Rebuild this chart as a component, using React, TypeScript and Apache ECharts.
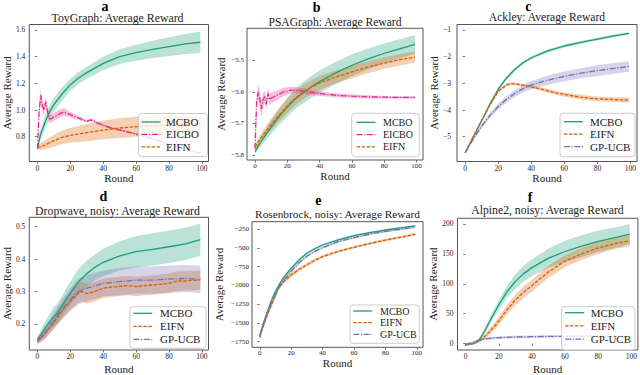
import React, { useEffect, useRef } from 'react';
import * as echarts from 'echarts';

const SERIF = 'Liberation Serif';
const INK = '#222222';

// ---------------- data: panel a (ToyGraph) ----------------
const aMcboRounds = [0, 2, 5, 8, 10, 15, 20, 25, 30, 40, 50, 60, 70, 80, 90, 99];
const aMcboMean = [0.72, 0.82, 0.92, 1.0, 1.04, 1.12, 1.19, 1.24, 1.28, 1.35, 1.4, 1.43, 1.455, 1.475, 1.495, 1.508];
const aMcboSpread = [0.02, 0.04, 0.05, 0.05, 0.05, 0.05, 0.045, 0.045, 0.045, 0.05, 0.055, 0.06, 0.065, 0.07, 0.075, 0.08];

const aEicboRounds = [0, 1, 2, 3, 4, 5, 6, 7, 8, 10, 12, 14, 16, 18, 20, 22, 25, 28, 30, 32, 34, 36, 40, 45, 50, 55, 60, 70, 80, 90, 99];
const aEicboMean = [0.71, 0.98, 1.11, 1.03, 1.0, 1.06, 1.0, 0.94, 0.93, 0.95, 0.96, 0.975, 0.985, 0.975, 0.965, 0.955, 0.94, 0.925, 0.915, 0.925, 0.92, 0.905, 0.885, 0.865, 0.85, 0.835, 0.82, 0.785, 0.745, 0.71, 0.675];
const aEicboSpread = [0.01, 0.04, 0.05, 0.05, 0.04, 0.04, 0.04, 0.035, 0.03, 0.03, 0.03, 0.03, 0.03, 0.025, 0.02, 0.02, 0.015, 0.012, 0.01, 0.01, 0.01, 0.01, 0.01, 0.008, 0.008, 0.008, 0.008, 0.008, 0.008, 0.008, 0.008];

const aEifnRounds = [0, 2, 5, 10, 15, 20, 25, 30, 40, 50, 60, 70, 80, 90, 99];
const aEifnMean = [0.72, 0.725, 0.74, 0.77, 0.795, 0.81, 0.82, 0.83, 0.85, 0.865, 0.875, 0.885, 0.89, 0.893, 0.895];
const aEifnSpread = [0.02, 0.025, 0.035, 0.045, 0.05, 0.055, 0.06, 0.065, 0.07, 0.075, 0.075, 0.07, 0.065, 0.06, 0.06];

// ---------------- data: panel b (PSAGraph) ----------------
const bRounds = [0, 2, 5, 10, 15, 20, 25, 30, 35, 40, 50, 60, 70, 80, 90, 99];
const bMcboMean = [-5.79, -5.772, -5.748, -5.712, -5.678, -5.648, -5.622, -5.602, -5.584, -5.568, -5.54, -5.516, -5.496, -5.478, -5.463, -5.45];
const bMcboSpread = [0.008, 0.012, 0.016, 0.022, 0.026, 0.03, 0.032, 0.034, 0.035, 0.035, 0.035, 0.035, 0.033, 0.031, 0.03, 0.03];
const bEifnMean = [-5.775, -5.758, -5.737, -5.703, -5.673, -5.645, -5.62, -5.6, -5.585, -5.572, -5.553, -5.537, -5.522, -5.509, -5.498, -5.49];
const bEifnSpread = [0.008, 0.012, 0.015, 0.018, 0.02, 0.022, 0.022, 0.022, 0.022, 0.022, 0.02, 0.02, 0.019, 0.018, 0.018, 0.018];

const bEicboRounds = [0, 1, 2, 3, 4, 5, 6, 7, 8, 9, 10, 12, 14, 16, 18, 20, 22, 25, 30, 35, 40, 50, 60, 70, 80, 90, 99];
const bEicboMean = [-5.78, -5.63, -5.6, -5.625, -5.655, -5.625, -5.615, -5.64, -5.605, -5.625, -5.62, -5.615, -5.61, -5.605, -5.6, -5.598, -5.595, -5.595, -5.598, -5.602, -5.606, -5.611, -5.614, -5.616, -5.617, -5.618, -5.618];
const bEicboSpread = [0.01, 0.02, 0.025, 0.025, 0.025, 0.022, 0.02, 0.02, 0.018, 0.018, 0.017, 0.016, 0.015, 0.014, 0.013, 0.012, 0.011, 0.01, 0.009, 0.008, 0.007, 0.006, 0.005, 0.005, 0.004, 0.004, 0.004];

// ---------------- data: panel c (Ackley) ----------------
const cRounds = [0, 5, 10, 15, 20, 25, 30, 35, 40, 50, 60, 70, 80, 90, 99];
const cMcboMean = [-5.6, -5.0, -4.4, -3.78, -3.22, -2.8, -2.48, -2.23, -2.04, -1.78, -1.6, -1.46, -1.34, -1.22, -1.13];
const cMcboSpread = [0.02, 0.04, 0.05, 0.06, 0.06, 0.06, 0.06, 0.06, 0.06, 0.06, 0.06, 0.05, 0.05, 0.05, 0.05];
const cGpMean = [-5.6, -5.08, -4.6, -4.2, -3.87, -3.6, -3.38, -3.2, -3.06, -2.88, -2.74, -2.62, -2.52, -2.44, -2.37];
const cGpSpread = [0.03, 0.06, 0.08, 0.1, 0.11, 0.12, 0.13, 0.14, 0.15, 0.17, 0.18, 0.19, 0.2, 0.2, 0.2];

const cEifnRounds = [0, 5, 10, 15, 20, 25, 28, 30, 35, 40, 45, 50, 55, 60, 70, 80, 90, 99];
const cEifnMean = [-5.6, -4.98, -4.38, -3.8, -3.3, -3.06, -3.01, -3.02, -3.07, -3.13, -3.2, -3.28, -3.36, -3.42, -3.52, -3.58, -3.61, -3.63];
const cEifnSpread = [0.02, 0.03, 0.04, 0.05, 0.05, 0.05, 0.05, 0.05, 0.05, 0.06, 0.06, 0.07, 0.07, 0.08, 0.09, 0.09, 0.09, 0.1];

// ---------------- data: panel d (Dropwave, noisy) ----------------
const dMcboRounds = [0, 2, 5, 8, 10, 12, 15, 18, 20, 25, 30, 35, 40, 50, 60, 70, 80, 90, 99];
const dMcboMean = [0.15, 0.165, 0.19, 0.21, 0.222, 0.232, 0.255, 0.28, 0.295, 0.33, 0.355, 0.375, 0.39, 0.41, 0.423, 0.43, 0.438, 0.447, 0.46];
const dMcboSpread = [0.01, 0.015, 0.02, 0.025, 0.03, 0.03, 0.03, 0.035, 0.035, 0.04, 0.04, 0.04, 0.042, 0.045, 0.048, 0.05, 0.05, 0.05, 0.05];

const dEifnRounds = [0, 2, 5, 10, 15, 20, 25, 27, 30, 35, 40, 45, 50, 55, 60, 65, 70, 75, 80, 85, 90, 99];
const dEifnMean = [0.15, 0.155, 0.17, 0.205, 0.24, 0.27, 0.295, 0.3, 0.293, 0.3, 0.31, 0.313, 0.316, 0.318, 0.315, 0.318, 0.32, 0.322, 0.325, 0.332, 0.333, 0.335];
const dEifnSpread = [0.01, 0.012, 0.015, 0.02, 0.025, 0.028, 0.03, 0.03, 0.03, 0.03, 0.03, 0.03, 0.03, 0.03, 0.03, 0.03, 0.03, 0.03, 0.03, 0.03, 0.03, 0.03];

const dGpRounds = [0, 5, 10, 15, 20, 25, 30, 40, 50, 60, 70, 80, 90, 99];
const dGpMean = [0.145, 0.175, 0.21, 0.245, 0.275, 0.3, 0.31, 0.325, 0.33, 0.335, 0.335, 0.338, 0.34, 0.337];
const dGpSpread = [0.01, 0.02, 0.025, 0.03, 0.035, 0.04, 0.04, 0.04, 0.042, 0.042, 0.042, 0.042, 0.042, 0.042];

// ---------------- data: panel e (Rosenbrock, noisy) ----------------
const eRounds = [0, 2, 4, 6, 8, 10, 12, 15, 20, 25, 30, 35, 40, 50, 60, 70, 80, 90, 99];
const eMcboMean = [-1670, -1520, -1400, -1280, -1170, -1080, -1000, -900, -770, -660, -570, -510, -460, -390, -335, -295, -260, -230, -205];
const eMcboSpread = [20, 20, 20, 20, 20, 20, 20, 20, 18, 15, 15, 12, 12, 12, 12, 12, 12, 12, 12];
const eEifnMean = [-1690, -1560, -1440, -1330, -1230, -1130, -1020, -950, -860, -785, -725, -665, -615, -545, -490, -440, -395, -355, -315];
const eEifnSpread = [25, 25, 25, 30, 35, 40, 40, 35, 30, 25, 25, 22, 20, 18, 18, 18, 18, 18, 18];
const eGpMean = [-1690, -1540, -1420, -1310, -1210, -1120, -1040, -940, -810, -700, -610, -545, -495, -415, -360, -315, -278, -248, -222];
const eGpSpread = [20, 20, 20, 20, 20, 20, 20, 20, 20, 18, 18, 15, 15, 15, 15, 15, 15, 15, 15];

// ---------------- data: panel f (Alpine2, noisy) ----------------
const fRounds = [0, 3, 5, 8, 10, 12, 15, 18, 20, 25, 30, 35, 40, 50, 60, 70, 80, 90, 99];
const fMcboMean = [-2, -1, 0, 6, 14, 24, 40, 55, 65, 87, 104, 117, 127, 143, 154, 163, 171, 177, 183];
const fMcboSpread = [1, 1, 1.5, 3, 4, 5, 6, 7, 8, 10, 12, 13, 14, 16, 18, 18, 18, 17, 17];
const fEifnMean = [-2, -1, 1, 4, 8, 13, 22, 31, 38, 57, 73, 86, 97, 120, 138, 150, 160, 167, 172];
const fEifnSpread = [1, 1, 1.5, 2, 3, 4, 5, 6, 7, 8, 9, 10, 10, 10, 10, 10, 10, 9, 9];

const fGpRounds = [0, 3, 5, 8, 10, 15, 20, 30, 40, 50, 60, 70, 80, 90, 99];
const fGpMean = [-1, 1, 3, 5.5, 7, 9, 10, 11, 11.5, 12, 12, 12, 12, 12, 12];
const fGpSpread = [0.5, 1, 1.5, 2, 2, 2, 2, 2, 2, 2, 2, 2, 2, 2, 2];

// ---------------- tick labels ----------------
const xTicks = [0, 20, 40, 60, 80, 100];
const aYTicks = [0.8, 1.0, 1.2, 1.4, 1.6];
const bYTicks = [-5.8, -5.7, -5.6, -5.5];
const cYTicks = [-5, -4, -3, -2, -1];
const dYTicks = [0.2, 0.3, 0.4, 0.5];
const eYTicks = [-1750, -1500, -1250, -1000, -750, -500, -250];
const fYTicks = [0, 50, 100, 150, 200];

const titles = [
  'ToyGraph: Average Reward',
  'PSAGraph: Average Reward',
  'Ackley: Average Reward',
  'Dropwave, noisy: Average Reward',
  'Rosenbrock, noisy: Average Reward',
  'Alpine2, noisy: Average Reward',
];
const letters = ['a', 'b', 'c', 'd', 'e', 'f'];

// ---------------- styles ----------------
const STYLE: Record<string, { color: string; dash: any }> = {
  MCBO: { color: '#1b9e77', dash: 'solid' },
  EIFN: { color: '#d95f02', dash: [3.5, 1.5] },
  EICBO: { color: '#e7298a', dash: [6, 1.6, 1.2, 1.6] },
  'GP-UCB': { color: '#7570b3', dash: [6, 1.6, 1.2, 1.6] },
};

type Curve = { method: string; rounds: number[]; mean: number[]; spread: number[] };

const panelCurves: Curve[][] = [
  [
    { method: 'MCBO', rounds: aMcboRounds, mean: aMcboMean, spread: aMcboSpread },
    { method: 'EICBO', rounds: aEicboRounds, mean: aEicboMean, spread: aEicboSpread },
    { method: 'EIFN', rounds: aEifnRounds, mean: aEifnMean, spread: aEifnSpread },
  ],
  [
    { method: 'MCBO', rounds: bRounds, mean: bMcboMean, spread: bMcboSpread },
    { method: 'EICBO', rounds: bEicboRounds, mean: bEicboMean, spread: bEicboSpread },
    { method: 'EIFN', rounds: bRounds, mean: bEifnMean, spread: bEifnSpread },
  ],
  [
    { method: 'MCBO', rounds: cRounds, mean: cMcboMean, spread: cMcboSpread },
    { method: 'EIFN', rounds: cEifnRounds, mean: cEifnMean, spread: cEifnSpread },
    { method: 'GP-UCB', rounds: cRounds, mean: cGpMean, spread: cGpSpread },
  ],
  [
    { method: 'MCBO', rounds: dMcboRounds, mean: dMcboMean, spread: dMcboSpread },
    { method: 'EIFN', rounds: dEifnRounds, mean: dEifnMean, spread: dEifnSpread },
    { method: 'GP-UCB', rounds: dGpRounds, mean: dGpMean, spread: dGpSpread },
  ],
  [
    { method: 'MCBO', rounds: eRounds, mean: eMcboMean, spread: eMcboSpread },
    { method: 'EIFN', rounds: eRounds, mean: eEifnMean, spread: eEifnSpread },
    { method: 'GP-UCB', rounds: eRounds, mean: eGpMean, spread: eGpSpread },
  ],
  [
    { method: 'MCBO', rounds: fRounds, mean: fMcboMean, spread: fMcboSpread },
    { method: 'EIFN', rounds: fRounds, mean: fEifnMean, spread: fEifnSpread },
    { method: 'GP-UCB', rounds: fGpRounds, mean: fGpMean, spread: fGpSpread },
  ],
];

// ---------------- layout ----------------
const GRIDS = [
  { left: 26.5, top: 24.5, width: 182, height: 137 },
  { left: 247, top: 28.3, width: 176, height: 131.7 },
  { left: 457, top: 24.5, width: 180, height: 137 },
  { left: 26.5, top: 217.3, width: 182, height: 133.4 },
  { left: 252, top: 221.7, width: 171, height: 125.6 },
  { left: 457.5, top: 218.3, width: 180.5, height: 132.4 },
];
const Y_AXES = [
  { min: 0.614, max: 1.641, ticks: aYTicks, dec: 1, nameGap: 16, fs: 7.5, margin: 4 },
  { min: -5.816, max: -5.399, ticks: bYTicks, dec: 1, nameGap: 21, fs: 7, margin: 3 },
  { min: -5.93, max: -0.794, ticks: cYTicks, dec: 0, nameGap: 16.5, fs: 7.5, margin: 6 },
  { min: 0.119, max: 0.529, ticks: dYTicks, dec: 1, nameGap: 16, fs: 7.5, margin: 4 },
  { min: -1825, max: -149, ticks: eYTicks, dec: 0, nameGap: 28, fs: 7, margin: 3 },
  { min: -10.7, max: 209.5, ticks: fYTicks, dec: 0, nameGap: 17, fs: 7.5, margin: 4 },
];
const X_NAME_GAP = [11, 10.5, 11, 13, 10.5, 13];
const TITLE_POS = [
  [117.5, 17.8], [335, 22.7], [547, 17.8], [117.5, 210.5], [337.5, 213.5], [547.5, 210.5],
];
const TITLE_SIZE = [11.8, 11.6, 11.6, 11.8, 11.3, 11.7];
const LETTER_POS = [
  [105, 6.5], [316.7, 7.5], [528.3, 6.5], [103.3, 196], [318.3, 200], [530, 197],
];
const LEGEND_BOX = [
  { x: 138.5, y: 113.5, w: 69, h: 43, lx: 141.5, tx: 166, y0: 122, step: 12.4, fs: 11 },
  { x: 351.7, y: 113.3, w: 67.6, h: 43.4, lx: 356.5, tx: 383, y0: 122.3, step: 12.3, fs: 10 },
  { x: 560, y: 113.3, w: 75, h: 43.4, lx: 564, tx: 590, y0: 121.7, step: 12.5, fs: 11 },
  { x: 130, y: 306.7, w: 76, h: 41.6, lx: 133.3, tx: 160, y0: 313.3, step: 13, fs: 11 },
  { x: 350, y: 305, w: 69.3, h: 38.3, lx: 353.3, tx: 380, y0: 311, step: 11.7, fs: 10 },
  { x: 561.7, y: 306.7, w: 73.3, h: 43.3, lx: 565, tx: 590.7, y0: 312.7, step: 13.2, fs: 11 },
];

function rgba(hex: string, a: number) {
  const n = parseInt(hex.slice(1), 16);
  return `rgba(${(n >> 16) & 255},${(n >> 8) & 255},${n & 255},${a})`;
}

function fmt(v: number, dec: number) {
  const s = Math.abs(v).toFixed(dec);
  return v < 0 ? '\u2212' + s : s;
}

function buildOption() {
  const grid = GRIDS.map((g) => ({
    ...g,
    show: true,
    borderColor: '#555555',
    borderWidth: 1,
    backgroundColor: 'transparent',
    containLabel: false,
  }));

  const xAxis = GRIDS.map((_, gi) => ({
    type: 'value',
    gridIndex: gi,
    min: -4.95,
    max: 103.95,
    name: 'Round',
    nameLocation: 'middle',
    nameGap: X_NAME_GAP[gi],
    nameTextStyle: { fontFamily: SERIF, fontSize: 11, color: INK },
    axisLine: { show: false },
    splitLine: { show: false },
    axisTick: { show: true, inside: false, length: 2.5, customValues: xTicks, lineStyle: { color: '#555555', width: 0.8 } },
    axisLabel: {
      show: true,
      customValues: xTicks,
      margin: 2.5,
      fontFamily: SERIF,
      fontSize: Y_AXES[gi].fs,
      color: INK,
      formatter: (v: number) => fmt(v, 0),
    },
  }));

  const yAxis = Y_AXES.map((ya, gi) => ({
    type: 'value',
    gridIndex: gi,
    min: ya.min,
    max: ya.max,
    name: 'Average Reward',
    nameLocation: 'middle',
    nameRotate: 90,
    nameGap: ya.nameGap,
    nameTextStyle: { fontFamily: SERIF, fontSize: 11, color: INK },
    axisLine: { show: false },
    splitLine: { show: false },
    axisTick: { show: true, inside: false, length: 2.5, customValues: ya.ticks, lineStyle: { color: '#555555', width: 0.8 } },
    axisLabel: {
      show: true,
      customValues: ya.ticks,
      margin: ya.margin,
      fontFamily: SERIF,
      fontSize: ya.fs,
      color: INK,
      formatter: (v: number) => fmt(v, ya.dec),
    },
  }));

  const series: any[] = [];
  panelCurves.forEach((curves, gi) => {
    curves.forEach((c) => {
      const color = STYLE[c.method].color;
      const rows = c.rounds.map((r, i) => [r, c.mean[i] - c.spread[i], c.mean[i] + c.spread[i]]);
      series.push({
        type: 'custom',
        name: c.method + ' range',
        xAxisIndex: gi,
        yAxisIndex: gi,
        data: rows,
        encode: { x: 0, y: [1, 2] },
        silent: true,
        z: 1,
        renderItem: (params: any, api: any) => {
          if (params.dataIndex !== 0) return null;
          const top = rows.map((d) => api.coord([d[0], d[2]]));
          const bottom = rows.map((d) => api.coord([d[0], d[1]])).reverse();
          return {
            type: 'polygon',
            shape: { points: top.concat(bottom) },
            style: { fill: rgba(color, 0.3), stroke: 'none' },
          };
        },
      });
    });
    curves.forEach((c) => {
      const st = STYLE[c.method];
      series.push({
        type: 'line',
        name: c.method,
        xAxisIndex: gi,
        yAxisIndex: gi,
        data: c.rounds.map((r, i) => [r, c.mean[i]]),
        symbol: 'none',
        showSymbol: false,
        silent: true,
        z: 3,
        lineStyle: { color: st.color, width: 1.3, type: st.dash },
        itemStyle: { color: st.color },
      });
    });
  });

  const graphic: any[] = [];
  titles.forEach((t, i) => {
    graphic.push({
      type: 'text',
      x: TITLE_POS[i][0],
      y: TITLE_POS[i][1],
      silent: true,
      style: {
        text: t, fontFamily: SERIF, fontSize: TITLE_SIZE[i], lineHeight: 10,
        fill: INK, align: 'center', verticalAlign: 'middle',
      },
    });
    graphic.push({
      type: 'text',
      x: LETTER_POS[i][0],
      y: LETTER_POS[i][1],
      silent: true,
      style: {
        text: letters[i], fontFamily: SERIF, fontSize: 14, fontWeight: 'bold', lineHeight: 9,
        fill: '#000', align: 'center', verticalAlign: 'middle',
      },
    });
  });
  LEGEND_BOX.forEach((lb, gi) => {
    graphic.push({
      type: 'rect',
      silent: true,
      z: 10,
      shape: { x: lb.x, y: lb.y, width: lb.w, height: lb.h, r: 3 },
      style: { fill: 'rgba(255,255,255,0.8)', stroke: '#cccccc', lineWidth: 1 },
    });
    panelCurves[gi].forEach((c, k) => {
      const st = STYLE[c.method];
      const yy = lb.y0 + k * lb.step;
      graphic.push({
        type: 'line',
        silent: true,
        z: 11,
        shape: { x1: lb.lx, y1: yy, x2: lb.lx + 19, y2: yy },
        style: { stroke: st.color, lineWidth: 1.3, lineDash: st.dash === 'solid' ? null : st.dash },
      });
      graphic.push({
        type: 'text',
        silent: true,
        z: 11,
        x: lb.tx,
        y: yy,
        style: {
          text: c.method, fontFamily: SERIF, fontSize: lb.fs,
          fill: INK, align: 'left', verticalAlign: 'middle',
        },
      });
    });
  });

  return {
    animation: false,
    backgroundColor: '#ffffff',
    grid,
    xAxis,
    yAxis,
    series,
    graphic,
  };
}

export default function App() {
  const ref = useRef<HTMLDivElement>(null);
  useEffect(() => {
    if (!ref.current) return;
    const chart = echarts.init(ref.current, null, { renderer: 'svg' });
    chart.setOption(buildOption() as any);
    return () => chart.dispose();
  }, []);
  return <div ref={ref} style={{ width: 640, height: 375, position: 'absolute', left: 0, top: 0 }} />;
}
